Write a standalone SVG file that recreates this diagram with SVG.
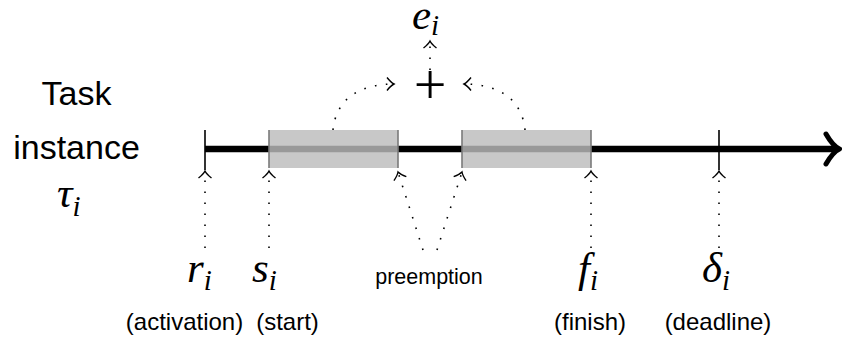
<svg xmlns="http://www.w3.org/2000/svg" width="842" height="338" viewBox="0 0 842 338">
<style>
.sans{font-family:"Liberation Sans",Arial,sans-serif;fill:#000}
.big{font-size:34px}
.lab{font-size:24px}
.m{font-family:"Liberation Serif","Times New Roman",serif;font-style:italic;font-size:43px;fill:#000}
.sub{font-size:29px}
.dot{fill:none;stroke:#000;stroke-width:1.6;stroke-dasharray:1.6 9.4;marker-end:url(#to)}
.tick{stroke:#000;stroke-width:1.6}
.edge{stroke:#7a7a7a;stroke-width:1.6}
</style>
<defs>
<marker id="to" markerUnits="userSpaceOnUse" markerWidth="20" markerHeight="20" refX="0" refY="0" orient="auto" overflow="visible" viewBox="-10 -10 20 20">
<path d="M-7,-6.5 Q-3,-1.5 0,0 Q-3,1.5 -7,6.5" fill="none" stroke="#000" stroke-width="1.4" stroke-dasharray="none"/>
</marker>
</defs>
<rect width="842" height="338" fill="#fff"/>
<g id="task-label">
<text class="sans big" x="76.5" y="105" text-anchor="middle">Task</text>
<text class="sans big" x="76.5" y="159" text-anchor="middle">instance</text>
<text class="m" x="57" y="207">τ<tspan class="sub" dy="9">i</tspan></text>
</g>
<g id="timeline">
<line x1="205" y1="149" x2="837" y2="149" stroke="#000" stroke-width="6.5"/>
<path d="M826,134 C830,141 835,147 839.5,149 C835,151 830,157 826,164" fill="none" stroke="#000" stroke-width="5" stroke-linecap="round" stroke-linejoin="round"/>
</g>
<g id="tick-r"><line class="tick" x1="205" y1="130" x2="205" y2="170"/></g>
<g id="tick-d"><line class="tick" x1="719" y1="130" x2="719" y2="170"/></g>
<g id="exec1">
<rect x="269" y="130" width="129" height="38" fill="#c8c8c8"/>
<line x1="269" y1="149" x2="398" y2="149" stroke="#999" stroke-width="6.5"/>
<line class="edge" x1="269" y1="130" x2="269" y2="168"/>
<line class="edge" x1="398" y1="130" x2="398" y2="168"/>
</g>
<g id="exec2">
<rect x="462" y="130" width="129" height="38" fill="#c8c8c8"/>
<line x1="462" y1="149" x2="591" y2="149" stroke="#999" stroke-width="6.5"/>
<line class="edge" x1="462" y1="130" x2="462" y2="168"/>
<line class="edge" x1="591" y1="130" x2="591" y2="168"/>
</g>
<g id="plus"><text x="430" y="104" text-anchor="middle" font-family="Liberation Serif,serif" font-size="58">+</text></g>
<g id="e-label"><text class="m" x="412" y="29">e<tspan class="sub" dy="6">i</tspan></text></g>
<g id="r-label">
<text class="m" x="187" y="282">r<tspan class="sub" dy="8">i</tspan></text>
<text class="sans lab" x="184.5" y="330" text-anchor="middle">(activation)</text>
</g>
<g id="s-label">
<text class="m" x="252" y="282">s<tspan class="sub" dy="8">i</tspan></text>
<text class="sans lab" x="287.5" y="330" text-anchor="middle">(start)</text>
</g>
<g id="preemption-label"><text class="sans" font-size="21.5" x="429" y="284" text-anchor="middle">preemption</text></g>
<g id="f-label">
<text class="m" x="578" y="282">f<tspan class="sub" dy="8">i</tspan></text>
<text class="sans lab" x="590" y="330" text-anchor="middle">(finish)</text>
</g>
<g id="d-label">
<text class="m" x="702" y="282">δ<tspan class="sub" dy="8">i</tspan></text>
<text class="sans lab" x="718" y="330" text-anchor="middle">(deadline)</text>
</g>
<g id="connectors">
<path class="dot" d="M205,248 L205,171"/>
<path class="dot" d="M269,248 L269,171"/>
<path class="dot" d="M423,250 L398,172"/>
<path class="dot" d="M437,250 L462,172"/>
<path class="dot" d="M591,248 L591,171"/>
<path class="dot" d="M719,248 L719,171"/>
<path class="dot" d="M333,130 C336,100 358,84 394,84"/>
<path class="dot" d="M525,130 C522,100 500,84 464,84"/>
<path class="dot" d="M430,70 L430,41"/>
</g>
</svg>
